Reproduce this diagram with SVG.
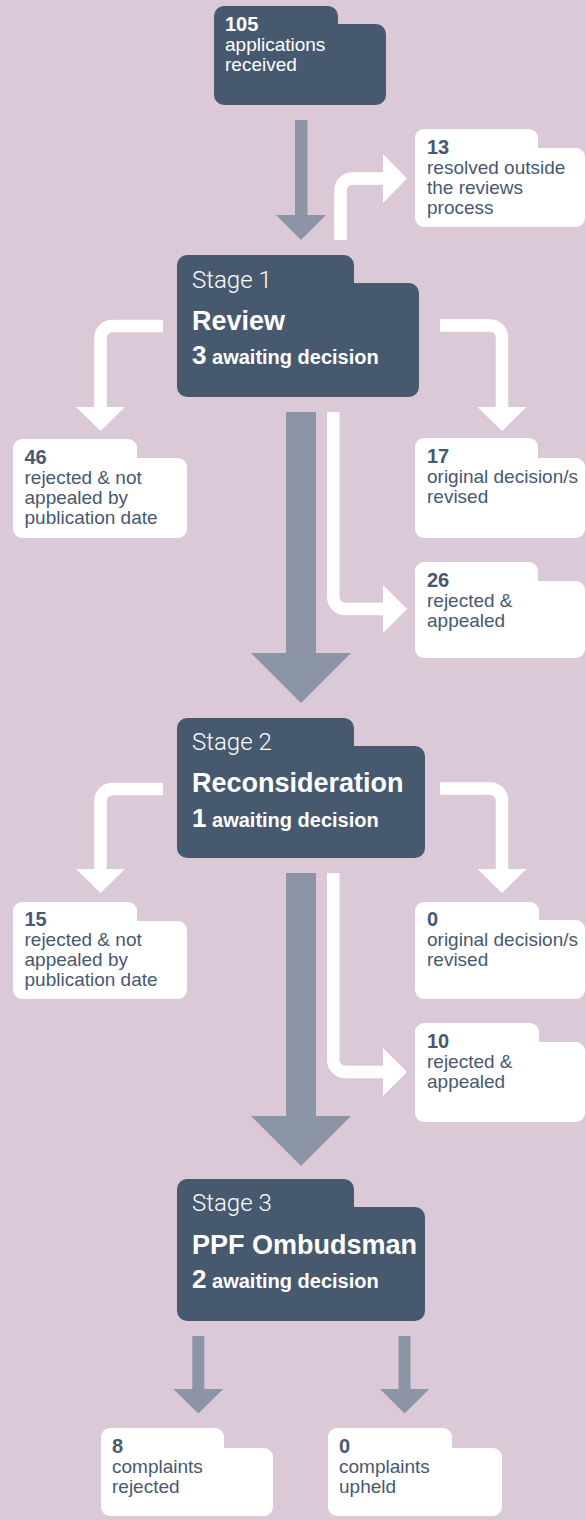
<svg xmlns="http://www.w3.org/2000/svg" width="586" height="1520" viewBox="0 0 586 1520">
<style>
.bg{fill:#dcc9d8}
.dark{fill:#47596f}
.box{fill:#ffffff}
.ga{fill:#8b95a5}
.wl{fill:none;stroke:#ffffff;stroke-width:12.5}
.wh{fill:#ffffff}
text{font-family:"Liberation Sans",Arial,sans-serif}
.num{font-size:20px;font-weight:bold}
.lbl{font-size:19px}
.dk{fill:#47596f}
.wt{fill:#ffffff}
.stg{font-family:Roboto,"Liberation Sans",sans-serif;font-weight:300;font-size:24px;fill:#ffffff}
.ttl{font-size:27px;font-weight:bold;fill:#ffffff}
.sub{font-weight:bold;fill:#ffffff}
</style>
<rect class="bg" x="0" y="0" width="586" height="1520"/>
<g id="connectors">
  <polygon class="ga" points="295,120 307.5,120 307.5,215 326,215 301,240 276,215 295,215"/>
  <polygon class="ga" points="286,412 316,412 316,653 351,653 301,703 251,653 286,653"/>
  <polygon class="ga" points="286,873 316,873 316,1116 351,1116 301,1166 251,1116 286,1116"/>
  <polygon class="ga" points="192.3,1336 204.3,1336 204.3,1389 223.3,1389 198.3,1413.5 173.3,1389 192.3,1389"/>
  <polygon class="ga" points="398.5,1336 410.5,1336 410.5,1389 429.3,1389 404.5,1413.5 380,1389 398.5,1389"/>
  <path class="wl" d="M340.5,240 V190.5 A12,12 0 0 1 352.5,178.5 H384"/>
  <polygon class="wh" points="383,154 407,178.5 383,203"/>
  <path class="wl" d="M163,326 H112.5 A12,12 0 0 0 100.5,338 V408"/>
  <polygon class="wh" points="76,407 125,407 100.5,431"/>
  <path class="wl" d="M440,325.5 H490 A12,12 0 0 1 502,337.5 V408"/>
  <polygon class="wh" points="477.5,407 526.5,407 502,431"/>
  <path class="wl" d="M333.3,412 V597 A12,12 0 0 0 345.3,609 H384"/>
  <polygon class="wh" points="383,585 407,609 383,633"/>
  <path class="wl" d="M163,789 H112.5 A12,12 0 0 0 100.5,801 V870"/>
  <polygon class="wh" points="76,869 125,869 100.5,893"/>
  <path class="wl" d="M440,788.5 H490 A12,12 0 0 1 502,800.5 V870"/>
  <polygon class="wh" points="477.5,869 526.5,869 502,893"/>
  <path class="wl" d="M333.3,873 V1060 A12,12 0 0 0 345.3,1072 H384"/>
  <polygon class="wh" points="383,1048 407,1072 383,1096"/>
</g>
<g id="n-received">
  <path class="dark" d="M214,16 A10,10 0 0 1 224,6 H328 A10,10 0 0 1 338,16 V24 H376 A10,10 0 0 1 386,34 V95 A10,10 0 0 1 376,105 H224 A10,10 0 0 1 214,95 Z"/>
  <text class="num wt" x="225" y="30.7">105</text>
  <text class="lbl wt" x="225" y="50.7">applications</text>
  <text class="lbl wt" x="225" y="70.7">received</text>
</g>
<g id="n-resolved">
  <path class="box" d="M415,138 A9,9 0 0 1 424,129 H529 A9,9 0 0 1 538,138 V148 H576 A9,9 0 0 1 585,157 V218 A9,9 0 0 1 576,227 H424 A9,9 0 0 1 415,218 Z"/>
  <text class="num dk" x="427" y="153.5">13</text>
  <text class="lbl dk" x="427" y="173.5">resolved outside</text>
  <text class="lbl dk" x="427" y="193.5">the reviews</text>
  <text class="lbl dk" x="427" y="213.5">process</text>
</g>
<g id="n-stage1">
  <path class="dark" d="M177,265 A10,10 0 0 1 187,255 H344 A10,10 0 0 1 354,265 V283 H409 A10,10 0 0 1 419,293 V387 A10,10 0 0 1 409,397 H187 A10,10 0 0 1 177,387 Z"/>
  <text class="stg" x="192" y="288">Stage 1</text>
  <text class="ttl" x="192" y="330">Review</text>
  <text class="sub" x="192" y="364"><tspan font-size="26">3</tspan><tspan font-size="20"> awaiting decision</tspan></text>
</g>
<g id="n-s1-left">
  <path class="box" d="M13,448 A9,9 0 0 1 22,439 H128 A9,9 0 0 1 137,448 V458 H178 A9,9 0 0 1 187,467 V529 A9,9 0 0 1 178,538 H22 A9,9 0 0 1 13,529 Z"/>
  <text class="num dk" x="24.5" y="463.5">46</text>
  <text class="lbl dk" x="24.5" y="483.5">rejected &amp; not</text>
  <text class="lbl dk" x="24.5" y="503.5">appealed by</text>
  <text class="lbl dk" x="24.5" y="523.5">publication date</text>
</g>
<g id="n-s1-revised">
  <path class="box" d="M415,447 A9,9 0 0 1 424,438 H529 A9,9 0 0 1 538,447 V458 H576 A9,9 0 0 1 585,467 V529 A9,9 0 0 1 576,538 H424 A9,9 0 0 1 415,529 Z"/>
  <text class="num dk" x="427" y="463">17</text>
  <text class="lbl dk" x="427" y="483">original decision/s</text>
  <text class="lbl dk" x="427" y="503">revised</text>
</g>
<g id="n-s1-appealed">
  <path class="box" d="M415,571 A9,9 0 0 1 424,562 H529 A9,9 0 0 1 538,571 V581 H576 A9,9 0 0 1 585,590 V649 A9,9 0 0 1 576,658 H424 A9,9 0 0 1 415,649 Z"/>
  <text class="num dk" x="427" y="586.5">26</text>
  <text class="lbl dk" x="427" y="606.5">rejected &amp;</text>
  <text class="lbl dk" x="427" y="626.5">appealed</text>
</g>
<g id="n-stage2">
  <path class="dark" d="M177,728 A10,10 0 0 1 187,718 H344 A10,10 0 0 1 354,728 V746 H415 A10,10 0 0 1 425,756 V848 A10,10 0 0 1 415,858 H187 A10,10 0 0 1 177,848 Z"/>
  <text class="stg" x="192" y="750">Stage 2</text>
  <text class="ttl" x="192" y="792">Reconsideration</text>
  <text class="sub" x="192" y="827"><tspan font-size="26">1</tspan><tspan font-size="20"> awaiting decision</tspan></text>
</g>
<g id="n-s2-left">
  <path class="box" d="M13,911 A9,9 0 0 1 22,902 H128 A9,9 0 0 1 137,911 V921 H178 A9,9 0 0 1 187,930 V990 A9,9 0 0 1 178,999 H22 A9,9 0 0 1 13,990 Z"/>
  <text class="num dk" x="24.5" y="926">15</text>
  <text class="lbl dk" x="24.5" y="946">rejected &amp; not</text>
  <text class="lbl dk" x="24.5" y="966">appealed by</text>
  <text class="lbl dk" x="24.5" y="986">publication date</text>
</g>
<g id="n-s2-revised">
  <path class="box" d="M415,911 A9,9 0 0 1 424,902 H530 A9,9 0 0 1 539,911 V920 H576 A9,9 0 0 1 585,929 V990 A9,9 0 0 1 576,999 H424 A9,9 0 0 1 415,990 Z"/>
  <text class="num dk" x="427" y="926">0</text>
  <text class="lbl dk" x="427" y="946">original decision/s</text>
  <text class="lbl dk" x="427" y="966">revised</text>
</g>
<g id="n-s2-appealed">
  <path class="box" d="M415,1032 A9,9 0 0 1 424,1023 H530 A9,9 0 0 1 539,1032 V1042 H576 A9,9 0 0 1 585,1051 V1113 A9,9 0 0 1 576,1122 H424 A9,9 0 0 1 415,1113 Z"/>
  <text class="num dk" x="427" y="1047.5">10</text>
  <text class="lbl dk" x="427" y="1067.5">rejected &amp;</text>
  <text class="lbl dk" x="427" y="1087.5">appealed</text>
</g>
<g id="n-stage3">
  <path class="dark" d="M177,1189 A10,10 0 0 1 187,1179 H344 A10,10 0 0 1 354,1189 V1207 H415 A10,10 0 0 1 425,1217 V1311 A10,10 0 0 1 415,1321 H187 A10,10 0 0 1 177,1311 Z"/>
  <text class="stg" x="192" y="1211">Stage 3</text>
  <text class="ttl" x="192" y="1254">PPF Ombudsman</text>
  <text class="sub" x="192" y="1288"><tspan font-size="26">2</tspan><tspan font-size="20"> awaiting decision</tspan></text>
</g>
<g id="n-s3-rejected">
  <path class="box" d="M101,1437 A9,9 0 0 1 110,1428 H215 A9,9 0 0 1 224,1437 V1448 H264 A9,9 0 0 1 273,1457 V1507 A9,9 0 0 1 264,1516 H110 A9,9 0 0 1 101,1507 Z"/>
  <text class="num dk" x="112" y="1452.5">8</text>
  <text class="lbl dk" x="112" y="1472.5">complaints</text>
  <text class="lbl dk" x="112" y="1492.5">rejected</text>
</g>
<g id="n-s3-upheld">
  <path class="box" d="M328,1437 A9,9 0 0 1 337,1428 H443 A9,9 0 0 1 452,1437 V1448 H493 A9,9 0 0 1 502,1457 V1507 A9,9 0 0 1 493,1516 H337 A9,9 0 0 1 328,1507 Z"/>
  <text class="num dk" x="339" y="1452.5">0</text>
  <text class="lbl dk" x="339" y="1472.5">complaints</text>
  <text class="lbl dk" x="339" y="1492.5">upheld</text>
</g>
</svg>
